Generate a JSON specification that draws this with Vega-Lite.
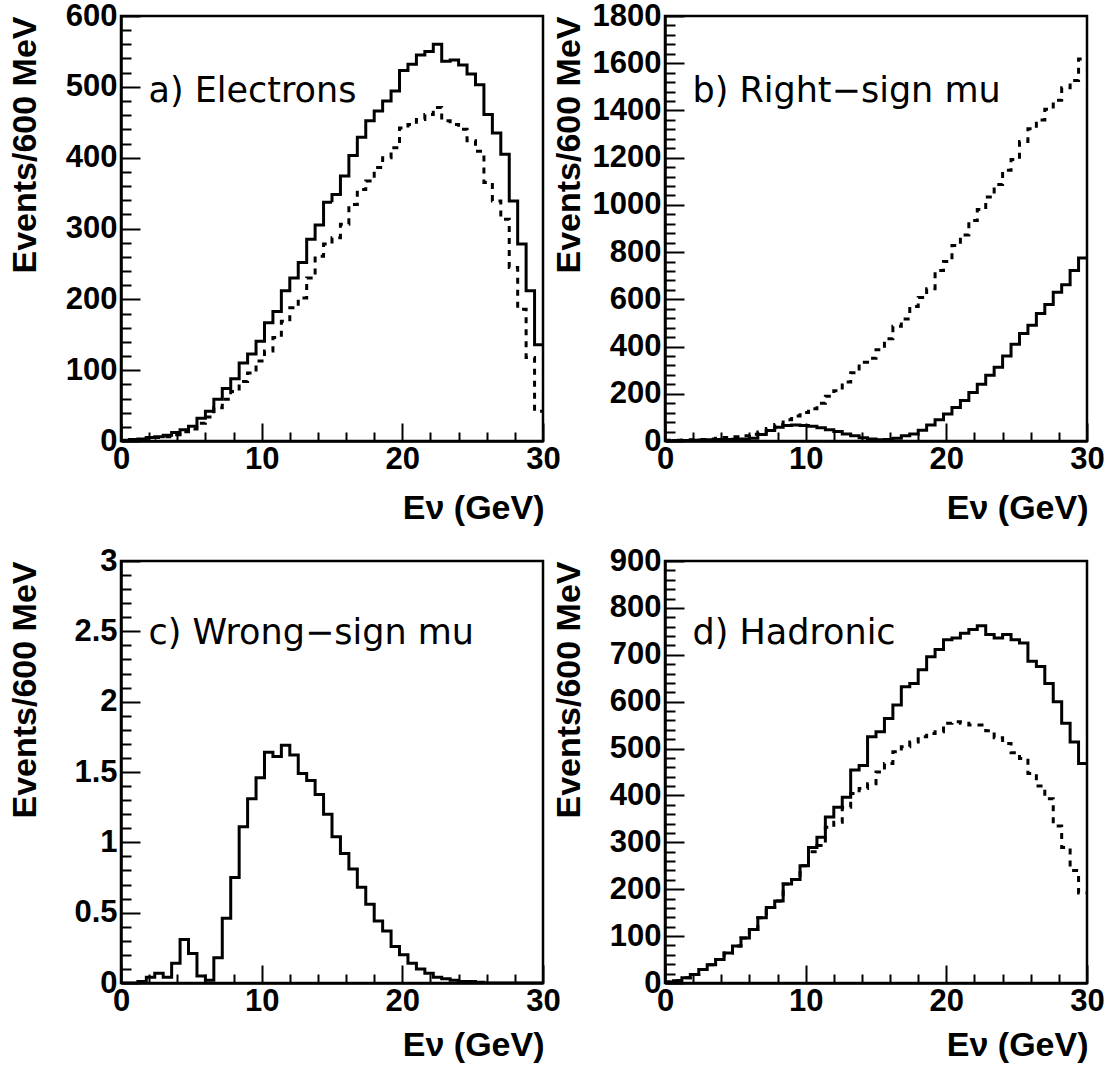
{
  "$schema": "https://vega.github.io/schema/vega-lite/v6.json",
  "background": "white",
  "padding": {"left": 6, "top": -2, "right": 5, "bottom": 0},
  "config": {
    "view": {"stroke": "black", "strokeWidth": 2.5},
    "axis": {
      "domainColor": "black", "domainWidth": 2.5, "tickColor": "black", "tickWidth": 2,
      "labelFont": "Liberation Sans", "labelFontWeight": "bold", "labelFontSize": 31, "labelColor": "black",
      "titleFont": "Liberation Sans", "titleFontWeight": "bold", "titleFontSize": 34, "titleColor": "black",
      "grid": false, "labelOverlap": false, "labelFlush": false, "labelBound": false, "tickCount": 200
    }
  },
  "datasets": {
    "labels": [
      {"p": "a", "x": 1.95, "y": 479, "t": "a) Electrons"},
      {"p": "b", "x": 1.95, "y": 1436, "t": "b) Right−sign mu"},
      {"p": "c", "x": 1.95, "y": 2.41, "t": "c) Wrong−sign mu"},
      {"p": "d", "x": 1.95, "y": 723, "t": "d) Hadronic"}
    ],
    "hist": [
      {"p":"a","lo":0,"hi":0.6,"solid":1,"dashed":0.8},
      {"p":"a","lo":0.6,"hi":1.2,"solid":2,"dashed":1.6},
      {"p":"a","lo":1.2,"hi":1.8,"solid":3,"dashed":2.4},
      {"p":"a","lo":1.8,"hi":2.4,"solid":5,"dashed":4},
      {"p":"a","lo":2.4,"hi":3,"solid":6,"dashed":5},
      {"p":"a","lo":3,"hi":3.6,"solid":8,"dashed":6},
      {"p":"a","lo":3.6,"hi":4.2,"solid":12,"dashed":9},
      {"p":"a","lo":4.2,"hi":4.8,"solid":16,"dashed":13},
      {"p":"a","lo":4.8,"hi":5.4,"solid":21,"dashed":17},
      {"p":"a","lo":5.4,"hi":6,"solid":32,"dashed":25},
      {"p":"a","lo":6,"hi":6.6,"solid":42,"dashed":34},
      {"p":"a","lo":6.6,"hi":7.2,"solid":59,"dashed":47},
      {"p":"a","lo":7.2,"hi":7.8,"solid":74,"dashed":59},
      {"p":"a","lo":7.8,"hi":8.4,"solid":88,"dashed":70},
      {"p":"a","lo":8.4,"hi":9,"solid":110,"dashed":84},
      {"p":"a","lo":9,"hi":9.6,"solid":123,"dashed":96},
      {"p":"a","lo":9.6,"hi":10.2,"solid":141,"dashed":113},
      {"p":"a","lo":10.2,"hi":10.8,"solid":167,"dashed":127},
      {"p":"a","lo":10.8,"hi":11.4,"solid":183,"dashed":146},
      {"p":"a","lo":11.4,"hi":12,"solid":212,"dashed":169},
      {"p":"a","lo":12,"hi":12.6,"solid":230,"dashed":188},
      {"p":"a","lo":12.6,"hi":13.2,"solid":252,"dashed":202},
      {"p":"a","lo":13.2,"hi":13.8,"solid":285,"dashed":230},
      {"p":"a","lo":13.8,"hi":14.4,"solid":305,"dashed":261},
      {"p":"a","lo":14.4,"hi":15,"solid":337,"dashed":278},
      {"p":"a","lo":15,"hi":15.6,"solid":348,"dashed":287},
      {"p":"a","lo":15.6,"hi":16.2,"solid":374,"dashed":306},
      {"p":"a","lo":16.2,"hi":16.8,"solid":403,"dashed":334},
      {"p":"a","lo":16.8,"hi":17.4,"solid":429,"dashed":355},
      {"p":"a","lo":17.4,"hi":18,"solid":452,"dashed":367},
      {"p":"a","lo":18,"hi":18.6,"solid":466,"dashed":386},
      {"p":"a","lo":18.6,"hi":19.2,"solid":480,"dashed":400},
      {"p":"a","lo":19.2,"hi":19.8,"solid":494,"dashed":414},
      {"p":"a","lo":19.8,"hi":20.4,"solid":523,"dashed":442},
      {"p":"a","lo":20.4,"hi":21,"solid":532,"dashed":447},
      {"p":"a","lo":21,"hi":21.6,"solid":545,"dashed":454},
      {"p":"a","lo":21.6,"hi":22.2,"solid":550,"dashed":461},
      {"p":"a","lo":22.2,"hi":22.8,"solid":560,"dashed":471},
      {"p":"a","lo":22.8,"hi":23.4,"solid":536,"dashed":452},
      {"p":"a","lo":23.4,"hi":24,"solid":538,"dashed":447},
      {"p":"a","lo":24,"hi":24.6,"solid":531,"dashed":440},
      {"p":"a","lo":24.6,"hi":25.2,"solid":518,"dashed":424},
      {"p":"a","lo":25.2,"hi":25.8,"solid":503,"dashed":409},
      {"p":"a","lo":25.8,"hi":26.4,"solid":461,"dashed":365},
      {"p":"a","lo":26.4,"hi":27,"solid":435,"dashed":339},
      {"p":"a","lo":27,"hi":27.6,"solid":405,"dashed":313},
      {"p":"a","lo":27.6,"hi":28.2,"solid":339,"dashed":245},
      {"p":"a","lo":28.2,"hi":28.8,"solid":278,"dashed":186},
      {"p":"a","lo":28.8,"hi":29.4,"solid":212,"dashed":118},
      {"p":"a","lo":29.4,"hi":30,"solid":136,"dashed":42},

      {"p":"b","lo":0,"hi":0.6,"solid":1,"dashed":3},
      {"p":"b","lo":0.6,"hi":1.2,"solid":2,"dashed":3},
      {"p":"b","lo":1.2,"hi":1.8,"solid":2,"dashed":4},
      {"p":"b","lo":1.8,"hi":2.4,"solid":3,"dashed":5},
      {"p":"b","lo":2.4,"hi":3,"solid":4,"dashed":6},
      {"p":"b","lo":3,"hi":3.6,"solid":5,"dashed":8},
      {"p":"b","lo":3.6,"hi":4.2,"solid":6,"dashed":12},
      {"p":"b","lo":4.2,"hi":4.8,"solid":6,"dashed":15},
      {"p":"b","lo":4.8,"hi":5.4,"solid":7,"dashed":18},
      {"p":"b","lo":5.4,"hi":6,"solid":8,"dashed":22},
      {"p":"b","lo":6,"hi":6.6,"solid":12,"dashed":29},
      {"p":"b","lo":6.6,"hi":7.2,"solid":28,"dashed":38},
      {"p":"b","lo":7.2,"hi":7.8,"solid":45,"dashed":53},
      {"p":"b","lo":7.8,"hi":8.4,"solid":58,"dashed":70},
      {"p":"b","lo":8.4,"hi":9,"solid":66,"dashed":90},
      {"p":"b","lo":9,"hi":9.6,"solid":68,"dashed":106},
      {"p":"b","lo":9.6,"hi":10.2,"solid":66,"dashed":121},
      {"p":"b","lo":10.2,"hi":10.8,"solid":62,"dashed":137},
      {"p":"b","lo":10.8,"hi":11.4,"solid":56,"dashed":160},
      {"p":"b","lo":11.4,"hi":12,"solid":48,"dashed":190},
      {"p":"b","lo":12,"hi":12.6,"solid":40,"dashed":213},
      {"p":"b","lo":12.6,"hi":13.2,"solid":30,"dashed":250},
      {"p":"b","lo":13.2,"hi":13.8,"solid":22,"dashed":289},
      {"p":"b","lo":13.8,"hi":14.4,"solid":14,"dashed":334},
      {"p":"b","lo":14.4,"hi":15,"solid":8,"dashed":350},
      {"p":"b","lo":15,"hi":15.6,"solid":5,"dashed":387},
      {"p":"b","lo":15.6,"hi":16.2,"solid":6,"dashed":433},
      {"p":"b","lo":16.2,"hi":16.8,"solid":12,"dashed":486},
      {"p":"b","lo":16.8,"hi":17.4,"solid":22,"dashed":517},
      {"p":"b","lo":17.4,"hi":18,"solid":30,"dashed":570},
      {"p":"b","lo":18,"hi":18.6,"solid":46,"dashed":608},
      {"p":"b","lo":18.6,"hi":19.2,"solid":68,"dashed":645},
      {"p":"b","lo":19.2,"hi":19.8,"solid":90,"dashed":722},
      {"p":"b","lo":19.8,"hi":20.4,"solid":114,"dashed":760},
      {"p":"b","lo":20.4,"hi":21,"solid":142,"dashed":828},
      {"p":"b","lo":21,"hi":21.6,"solid":172,"dashed":873},
      {"p":"b","lo":21.6,"hi":22.2,"solid":205,"dashed":934},
      {"p":"b","lo":22.2,"hi":22.8,"solid":240,"dashed":980},
      {"p":"b","lo":22.8,"hi":23.4,"solid":278,"dashed":1033},
      {"p":"b","lo":23.4,"hi":24,"solid":312,"dashed":1086},
      {"p":"b","lo":24,"hi":24.6,"solid":360,"dashed":1147},
      {"p":"b","lo":24.6,"hi":25.2,"solid":410,"dashed":1192},
      {"p":"b","lo":25.2,"hi":25.8,"solid":455,"dashed":1268},
      {"p":"b","lo":25.8,"hi":26.4,"solid":490,"dashed":1322},
      {"p":"b","lo":26.4,"hi":27,"solid":540,"dashed":1360},
      {"p":"b","lo":27,"hi":27.6,"solid":578,"dashed":1405},
      {"p":"b","lo":27.6,"hi":28.2,"solid":630,"dashed":1443},
      {"p":"b","lo":28.2,"hi":28.8,"solid":662,"dashed":1496},
      {"p":"b","lo":28.8,"hi":29.4,"solid":722,"dashed":1527},
      {"p":"b","lo":29.4,"hi":30,"solid":775,"dashed":1618},

      {"p":"c","lo":0,"hi":0.6,"solid":0},
      {"p":"c","lo":0.6,"hi":1.2,"solid":0},
      {"p":"c","lo":1.2,"hi":1.8,"solid":0.01},
      {"p":"c","lo":1.8,"hi":2.4,"solid":0.04},
      {"p":"c","lo":2.4,"hi":3,"solid":0.07},
      {"p":"c","lo":3,"hi":3.6,"solid":0.04},
      {"p":"c","lo":3.6,"hi":4.2,"solid":0.14},
      {"p":"c","lo":4.2,"hi":4.8,"solid":0.31},
      {"p":"c","lo":4.8,"hi":5.4,"solid":0.21},
      {"p":"c","lo":5.4,"hi":6,"solid":0.05},
      {"p":"c","lo":6,"hi":6.6,"solid":0.02},
      {"p":"c","lo":6.6,"hi":7.2,"solid":0.18},
      {"p":"c","lo":7.2,"hi":7.8,"solid":0.46},
      {"p":"c","lo":7.8,"hi":8.4,"solid":0.75},
      {"p":"c","lo":8.4,"hi":9,"solid":1.11},
      {"p":"c","lo":9,"hi":9.6,"solid":1.31},
      {"p":"c","lo":9.6,"hi":10.2,"solid":1.46},
      {"p":"c","lo":10.2,"hi":10.8,"solid":1.64},
      {"p":"c","lo":10.8,"hi":11.4,"solid":1.61},
      {"p":"c","lo":11.4,"hi":12,"solid":1.69},
      {"p":"c","lo":12,"hi":12.6,"solid":1.62},
      {"p":"c","lo":12.6,"hi":13.2,"solid":1.49},
      {"p":"c","lo":13.2,"hi":13.8,"solid":1.44},
      {"p":"c","lo":13.8,"hi":14.4,"solid":1.34},
      {"p":"c","lo":14.4,"hi":15,"solid":1.2},
      {"p":"c","lo":15,"hi":15.6,"solid":1.04},
      {"p":"c","lo":15.6,"hi":16.2,"solid":0.92},
      {"p":"c","lo":16.2,"hi":16.8,"solid":0.81},
      {"p":"c","lo":16.8,"hi":17.4,"solid":0.68},
      {"p":"c","lo":17.4,"hi":18,"solid":0.56},
      {"p":"c","lo":18,"hi":18.6,"solid":0.44},
      {"p":"c","lo":18.6,"hi":19.2,"solid":0.37},
      {"p":"c","lo":19.2,"hi":19.8,"solid":0.26},
      {"p":"c","lo":19.8,"hi":20.4,"solid":0.2},
      {"p":"c","lo":20.4,"hi":21,"solid":0.14},
      {"p":"c","lo":21,"hi":21.6,"solid":0.1},
      {"p":"c","lo":21.6,"hi":22.2,"solid":0.07},
      {"p":"c","lo":22.2,"hi":22.8,"solid":0.04},
      {"p":"c","lo":22.8,"hi":23.4,"solid":0.03},
      {"p":"c","lo":23.4,"hi":24,"solid":0.02},
      {"p":"c","lo":24,"hi":24.6,"solid":0.01},
      {"p":"c","lo":24.6,"hi":25.2,"solid":0.01},
      {"p":"c","lo":25.2,"hi":25.8,"solid":0.005},
      {"p":"c","lo":25.8,"hi":26.4,"solid":0},
      {"p":"c","lo":26.4,"hi":27,"solid":0},
      {"p":"c","lo":27,"hi":27.6,"solid":0},
      {"p":"c","lo":27.6,"hi":28.2,"solid":0},
      {"p":"c","lo":28.2,"hi":28.8,"solid":0},
      {"p":"c","lo":28.8,"hi":29.4,"solid":0},
      {"p":"c","lo":29.4,"hi":30,"solid":0},

      {"p":"d","lo":0,"hi":0.6,"solid":2,"dashed":2},
      {"p":"d","lo":0.6,"hi":1.2,"solid":5,"dashed":5},
      {"p":"d","lo":1.2,"hi":1.8,"solid":11,"dashed":11},
      {"p":"d","lo":1.8,"hi":2.4,"solid":18,"dashed":18},
      {"p":"d","lo":2.4,"hi":3,"solid":29,"dashed":29},
      {"p":"d","lo":3,"hi":3.6,"solid":39,"dashed":39},
      {"p":"d","lo":3.6,"hi":4.2,"solid":50,"dashed":50},
      {"p":"d","lo":4.2,"hi":4.8,"solid":64,"dashed":64},
      {"p":"d","lo":4.8,"hi":5.4,"solid":79,"dashed":79},
      {"p":"d","lo":5.4,"hi":6,"solid":96,"dashed":96},
      {"p":"d","lo":6,"hi":6.6,"solid":114,"dashed":114},
      {"p":"d","lo":6.6,"hi":7.2,"solid":139,"dashed":139},
      {"p":"d","lo":7.2,"hi":7.8,"solid":161,"dashed":161},
      {"p":"d","lo":7.8,"hi":8.4,"solid":175,"dashed":175},
      {"p":"d","lo":8.4,"hi":9,"solid":211,"dashed":211},
      {"p":"d","lo":9,"hi":9.6,"solid":221,"dashed":221},
      {"p":"d","lo":9.6,"hi":10.2,"solid":250,"dashed":250},
      {"p":"d","lo":10.2,"hi":10.8,"solid":289,"dashed":280},
      {"p":"d","lo":10.8,"hi":11.4,"solid":311,"dashed":293},
      {"p":"d","lo":11.4,"hi":12,"solid":354,"dashed":332},
      {"p":"d","lo":12,"hi":12.6,"solid":375,"dashed":343},
      {"p":"d","lo":12.6,"hi":13.2,"solid":396,"dashed":375},
      {"p":"d","lo":13.2,"hi":13.8,"solid":454,"dashed":404},
      {"p":"d","lo":13.8,"hi":14.4,"solid":464,"dashed":415},
      {"p":"d","lo":14.4,"hi":15,"solid":525,"dashed":425},
      {"p":"d","lo":15,"hi":15.6,"solid":536,"dashed":450},
      {"p":"d","lo":15.6,"hi":16.2,"solid":564,"dashed":468},
      {"p":"d","lo":16.2,"hi":16.8,"solid":593,"dashed":493},
      {"p":"d","lo":16.8,"hi":17.4,"solid":632,"dashed":504},
      {"p":"d","lo":17.4,"hi":18,"solid":639,"dashed":514},
      {"p":"d","lo":18,"hi":18.6,"solid":668,"dashed":525},
      {"p":"d","lo":18.6,"hi":19.2,"solid":696,"dashed":532},
      {"p":"d","lo":19.2,"hi":19.8,"solid":711,"dashed":536},
      {"p":"d","lo":19.8,"hi":20.4,"solid":732,"dashed":554},
      {"p":"d","lo":20.4,"hi":21,"solid":736,"dashed":557},
      {"p":"d","lo":21,"hi":21.6,"solid":746,"dashed":554},
      {"p":"d","lo":21.6,"hi":22.2,"solid":754,"dashed":550},
      {"p":"d","lo":22.2,"hi":22.8,"solid":762,"dashed":550},
      {"p":"d","lo":22.8,"hi":23.4,"solid":743,"dashed":538},
      {"p":"d","lo":23.4,"hi":24,"solid":736,"dashed":523},
      {"p":"d","lo":24,"hi":24.6,"solid":743,"dashed":511},
      {"p":"d","lo":24.6,"hi":25.2,"solid":732,"dashed":491},
      {"p":"d","lo":25.2,"hi":25.8,"solid":725,"dashed":479},
      {"p":"d","lo":25.8,"hi":26.4,"solid":686,"dashed":447},
      {"p":"d","lo":26.4,"hi":27,"solid":675,"dashed":420},
      {"p":"d","lo":27,"hi":27.6,"solid":639,"dashed":393},
      {"p":"d","lo":27.6,"hi":28.2,"solid":600,"dashed":335},
      {"p":"d","lo":28.2,"hi":28.8,"solid":554,"dashed":289},
      {"p":"d","lo":28.8,"hi":29.4,"solid":514,"dashed":240},
      {"p":"d","lo":29.4,"hi":30,"solid":468,"dashed":192}
    ]
  },
  "columns": 2,
  "spacing": {"row": 120, "column": 122},
  "bounds": "flush",
  "concat": [
    {
      "width": 422, "height": 425,
      "layer": [
        {
          "data": {"name": "hist"},
          "transform": [
            {"filter": "datum.p === 'a'"},
            {"fold": ["solid", "dashed"], "as": ["series", "n"]},
            {"filter": "isValid(datum.n)"},
            {"fold": ["lo", "hi"], "as": ["edge", "e"]}
          ],
          "mark": {"type": "line", "color": "black", "strokeWidth": 3, "strokeJoin": "miter", "clip": true},
          "encoding": {
            "x": {"field": "e", "type": "quantitative", "scale": {"domain": [0, 30], "nice": false, "zero": false},
              "axis": {"values": [0,2,4,6,8,10,12,14,16,18,20,22,24,26,28,30], "tickCount": 200, "format": "d", "labelOverlap": false,
                "labelExpr": "datum.value % 10 === 0 ? datum.label : ''",
                "tickSize": {"condition": {"test": "datum.value % 10 === 0", "value": -18}, "value": -9},
                "labelPadding": 21, "title": "Eν (GeV)", "titleX": 423, "titleY": 77,
                "titleAlign": "right", "titleAnchor": "end", "titleBaseline": "alphabetic"}},
            "y": {"field": "n", "type": "quantitative", "scale": {"domain": [0, 600], "nice": false},
              "axis": {"values": [0,20,40,60,80,100,120,140,160,180,200,220,240,260,280,300,320,340,360,380,400,420,440,460,480,500,520,540,560,580,600], "tickCount": 200, "format": "d", "labelOverlap": false,
                "labelExpr": "datum.value % 100 === 0 ? datum.label : ''",
                "tickSize": {"condition": {"test": "datum.value % 100 === 0", "value": -19}, "value": -10},
                "labelPadding": 23, "title": "Events/600 MeV", "titleAngle": -90, "titleX": -86, "titleY": 0,
                "titleAlign": "right", "titleBaseline": "alphabetic"}},
            "strokeDash": {"field": "series", "type": "nominal", "scale": {"domain": ["solid", "dashed"], "range": [[1, 0], [6, 6]]}, "legend": null},
            "order": [{"field": "lo", "type": "quantitative", "sort": "ascending"}, {"field": "edge", "type": "nominal", "sort": "descending"}]
          }
        },
        {
          "data": {"name": "labels"},
          "transform": [{"filter": "datum.p === 'a'"}],
          "mark": {"type": "text", "font": "DejaVu Sans", "fontSize": 35, "align": "left", "baseline": "alphabetic", "color": "black"},
          "encoding": {"x": {"field": "x", "type": "quantitative"}, "y": {"field": "y", "type": "quantitative"}, "text": {"field": "t"}}
        }
      ]
    },
    {
      "width": 422, "height": 425,
      "layer": [
        {
          "data": {"name": "hist"},
          "transform": [
            {"filter": "datum.p === 'b'"},
            {"fold": ["solid", "dashed"], "as": ["series", "n"]},
            {"filter": "isValid(datum.n)"},
            {"fold": ["lo", "hi"], "as": ["edge", "e"]}
          ],
          "mark": {"type": "line", "color": "black", "strokeWidth": 3, "strokeJoin": "miter", "clip": true},
          "encoding": {
            "x": {"field": "e", "type": "quantitative", "scale": {"domain": [0, 30], "nice": false, "zero": false},
              "axis": {"values": [0,2,4,6,8,10,12,14,16,18,20,22,24,26,28,30], "tickCount": 200, "format": "d", "labelOverlap": false,
                "labelExpr": "datum.value % 10 === 0 ? datum.label : ''",
                "tickSize": {"condition": {"test": "datum.value % 10 === 0", "value": -18}, "value": -9},
                "labelPadding": 21, "title": "Eν (GeV)", "titleX": 423, "titleY": 77,
                "titleAlign": "right", "titleAnchor": "end", "titleBaseline": "alphabetic"}},
            "y": {"field": "n", "type": "quantitative", "scale": {"domain": [0, 1800], "nice": false},
              "axis": {"values": [0,40,80,120,160,200,240,280,320,360,400,440,480,520,560,600,640,680,720,760,800,840,880,920,960,1000,1040,1080,1120,1160,1200,1240,1280,1320,1360,1400,1440,1480,1520,1560,1600,1640,1680,1720,1760,1800], "tickCount": 200, "format": "d", "labelOverlap": false,
                "labelExpr": "datum.value % 200 === 0 ? datum.label : ''",
                "tickSize": {"condition": {"test": "datum.value % 200 === 0", "value": -19}, "value": -10},
                "labelPadding": 23, "title": "Events/600 MeV", "titleAngle": -90, "titleX": -86, "titleY": 0,
                "titleAlign": "right", "titleBaseline": "alphabetic"}},
            "strokeDash": {"field": "series", "type": "nominal", "scale": {"domain": ["solid", "dashed"], "range": [[1, 0], [6, 6]]}, "legend": null},
            "order": [{"field": "lo", "type": "quantitative", "sort": "ascending"}, {"field": "edge", "type": "nominal", "sort": "descending"}]
          }
        },
        {
          "data": {"name": "labels"},
          "transform": [{"filter": "datum.p === 'b'"}],
          "mark": {"type": "text", "font": "DejaVu Sans", "fontSize": 35, "align": "left", "baseline": "alphabetic", "color": "black"},
          "encoding": {"x": {"field": "x", "type": "quantitative"}, "y": {"field": "y", "type": "quantitative"}, "text": {"field": "t"}}
        }
      ]
    },
    {
      "width": 422, "height": 422,
      "layer": [
        {
          "data": {"name": "hist"},
          "transform": [
            {"filter": "datum.p === 'c'"},
            {"fold": ["solid", "dashed"], "as": ["series", "n"]},
            {"filter": "isValid(datum.n)"},
            {"fold": ["lo", "hi"], "as": ["edge", "e"]}
          ],
          "mark": {"type": "line", "color": "black", "strokeWidth": 3, "strokeJoin": "miter", "clip": true},
          "encoding": {
            "x": {"field": "e", "type": "quantitative", "scale": {"domain": [0, 30], "nice": false, "zero": false},
              "axis": {"values": [0,2,4,6,8,10,12,14,16,18,20,22,24,26,28,30], "tickCount": 200, "format": "d", "labelOverlap": false,
                "labelExpr": "datum.value % 10 === 0 ? datum.label : ''",
                "tickSize": {"condition": {"test": "datum.value % 10 === 0", "value": -18}, "value": -9},
                "labelPadding": 21, "title": "Eν (GeV)", "titleX": 423, "titleY": 72,
                "titleAlign": "right", "titleAnchor": "end", "titleBaseline": "alphabetic"}},
            "y": {"field": "n", "type": "quantitative", "scale": {"domain": [0, 3], "nice": false},
              "axis": {"values": [0,0.1,0.2,0.3,0.4,0.5,0.6,0.7,0.8,0.9,1,1.1,1.2,1.3,1.4,1.5,1.6,1.7,1.8,1.9,2,2.1,2.2,2.3,2.4,2.5,2.6,2.7,2.8,2.9,3], "tickCount": 200, "labelOverlap": false,
                "labelExpr": "round(datum.value * 10) % 5 === 0 ? format(datum.value, '~g') : ''",
                "tickSize": {"condition": {"test": "round(datum.value * 10) % 5 === 0", "value": -19}, "value": -10},
                "labelPadding": 23, "title": "Events/600 MeV", "titleAngle": -90, "titleX": -86, "titleY": 0,
                "titleAlign": "right", "titleBaseline": "alphabetic"}},
            "strokeDash": {"field": "series", "type": "nominal", "scale": {"domain": ["solid", "dashed"], "range": [[1, 0], [6, 6]]}, "legend": null},
            "order": [{"field": "lo", "type": "quantitative", "sort": "ascending"}, {"field": "edge", "type": "nominal", "sort": "descending"}]
          }
        },
        {
          "data": {"name": "labels"},
          "transform": [{"filter": "datum.p === 'c'"}],
          "mark": {"type": "text", "font": "DejaVu Sans", "fontSize": 35, "align": "left", "baseline": "alphabetic", "color": "black"},
          "encoding": {"x": {"field": "x", "type": "quantitative"}, "y": {"field": "y", "type": "quantitative"}, "text": {"field": "t"}}
        }
      ]
    },
    {
      "width": 422, "height": 422,
      "layer": [
        {
          "data": {"name": "hist"},
          "transform": [
            {"filter": "datum.p === 'd'"},
            {"fold": ["solid", "dashed"], "as": ["series", "n"]},
            {"filter": "isValid(datum.n)"},
            {"fold": ["lo", "hi"], "as": ["edge", "e"]}
          ],
          "mark": {"type": "line", "color": "black", "strokeWidth": 3, "strokeJoin": "miter", "clip": true},
          "encoding": {
            "x": {"field": "e", "type": "quantitative", "scale": {"domain": [0, 30], "nice": false, "zero": false},
              "axis": {"values": [0,2,4,6,8,10,12,14,16,18,20,22,24,26,28,30], "tickCount": 200, "format": "d", "labelOverlap": false,
                "labelExpr": "datum.value % 10 === 0 ? datum.label : ''",
                "tickSize": {"condition": {"test": "datum.value % 10 === 0", "value": -18}, "value": -9},
                "labelPadding": 21, "title": "Eν (GeV)", "titleX": 423, "titleY": 72,
                "titleAlign": "right", "titleAnchor": "end", "titleBaseline": "alphabetic"}},
            "y": {"field": "n", "type": "quantitative", "scale": {"domain": [0, 900], "nice": false},
              "axis": {"values": [0,20,40,60,80,100,120,140,160,180,200,220,240,260,280,300,320,340,360,380,400,420,440,460,480,500,520,540,560,580,600,620,640,660,680,700,720,740,760,780,800,820,840,860,880,900], "tickCount": 200, "format": "d", "labelOverlap": false,
                "labelExpr": "datum.value % 100 === 0 ? datum.label : ''",
                "tickSize": {"condition": {"test": "datum.value % 100 === 0", "value": -19}, "value": -10},
                "labelPadding": 23, "title": "Events/600 MeV", "titleAngle": -90, "titleX": -86, "titleY": 0,
                "titleAlign": "right", "titleBaseline": "alphabetic"}},
            "strokeDash": {"field": "series", "type": "nominal", "scale": {"domain": ["solid", "dashed"], "range": [[1, 0], [6, 6]]}, "legend": null},
            "order": [{"field": "lo", "type": "quantitative", "sort": "ascending"}, {"field": "edge", "type": "nominal", "sort": "descending"}]
          }
        },
        {
          "data": {"name": "labels"},
          "transform": [{"filter": "datum.p === 'd'"}],
          "mark": {"type": "text", "font": "DejaVu Sans", "fontSize": 35, "align": "left", "baseline": "alphabetic", "color": "black"},
          "encoding": {"x": {"field": "x", "type": "quantitative"}, "y": {"field": "y", "type": "quantitative"}, "text": {"field": "t"}}
        }
      ]
    }
  ]
}
